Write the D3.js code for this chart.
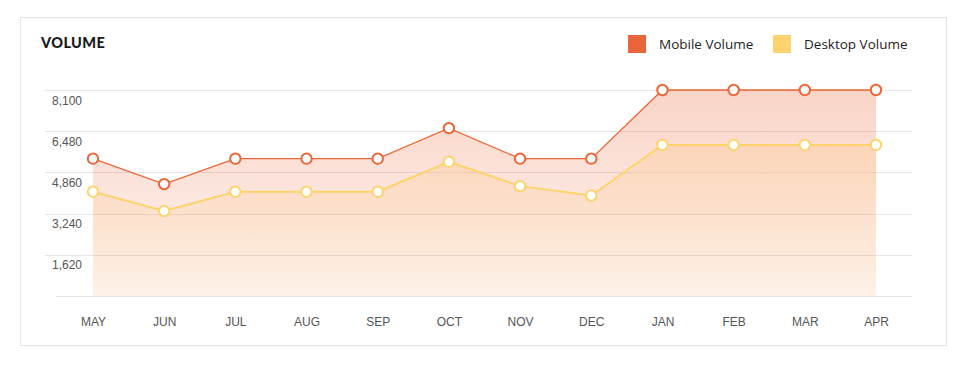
<!DOCTYPE html>
<html>
<head>
<meta charset="utf-8">
<script src="https://cdn.jsdelivr.net/npm/d3@7/dist/d3.min.js"></script>
<style>
  html, body { margin: 0; padding: 0; background: #fff; }
  svg { display: block; }
</style>
</head>
<body>
<svg id="chart" width="963" height="369"></svg>
<script>
const months = ["MAY","JUN","JUL","AUG","SEP","OCT","NOV","DEC","JAN","FEB","MAR","APR"];
const mobileVolume = [5400, 4400, 5400, 5400, 5400, 6600, 5400, 5400, 8100, 8100, 8100, 8100];
const desktopVolume = [4100, 3340, 4100, 4100, 4100, 5280, 4320, 3950, 5940, 5940, 5940, 5940];
const yTicks = [1620, 3240, 4860, 6480, 8100];
const seriesNames = ["Mobile Volume", "Desktop Volume"];
const seriesColors = ["#ec6536", "#fdd36c"];

const svg = d3.select("#chart");

// card
svg.append("rect").attr("x", 20.5).attr("y", 17.5).attr("width", 926).attr("height", 328)
  .attr("fill", "#fff").attr("stroke", "#e2e3e8").attr("stroke-width", 1);

// title
svg.append("text").attr("x", 41).attr("y", 48).text("VOLUME")
  .attr("font-family", "Lato, 'Open Sans', sans-serif").attr("font-weight", 900)
  .attr("font-size", 14.5).attr("fill", "#1a1a1a").attr("letter-spacing", 0.4);

// legend
const legendX = [628, 773];
seriesNames.forEach((n, i) => {
  svg.append("rect").attr("x", legendX[i]).attr("y", 35).attr("width", 18).attr("height", 18)
    .attr("fill", i === 0 ? "#e9663a" : "#fcd36e");
  svg.append("text").attr("x", legendX[i] + 31).attr("y", 49).text(n)
    .attr("font-family", "'Open Sans', Lato, sans-serif").attr("font-size", 13.5)
    .attr("fill", "#222");
});

const x = d3.scalePoint().domain(months).range([93, 876]);
const y = d3.scaleLinear().domain([0, 8100]).range([296, 90]);

// gradients
const defs = svg.append("defs");
function grad(id, color, top, bottom) {
  const g = defs.append("linearGradient").attr("id", id)
    .attr("gradientUnits", "userSpaceOnUse")
    .attr("x1", 0).attr("y1", y(8100)).attr("x2", 0).attr("y2", y(0));
  g.append("stop").attr("offset", 0).attr("stop-color", color).attr("stop-opacity", top);
  g.append("stop").attr("offset", 1).attr("stop-color", color).attr("stop-opacity", bottom);
}
grad("gMobile", "#ec6536", 0.28, 0.06);
grad("gDesktop", "#fdc070", 0.32, 0.08);

// gridlines
const grid = svg.append("g");
grid.selectAll("line").data(yTicks).join("line")
  .attr("x1", 45).attr("x2", 912)
  .attr("y1", d => Math.round(y(d)) + 0.5).attr("y2", d => Math.round(y(d)) + 0.5)
  .attr("stroke", "#e4e4ea").attr("stroke-width", 1);
svg.append("line").attr("x1", 56).attr("x2", 912).attr("y1", 296.5).attr("y2", 296.5)
  .attr("stroke", "#e2e3e8");

// y tick labels
svg.append("g").selectAll("text").data(yTicks).join("text")
  .attr("x", 52).attr("y", d => y(d) + 14.5)
  .text(d => d3.format(",")(d))
  .attr("font-family", "'Liberation Sans', Arial, sans-serif").attr("font-size", 12)
  .attr("fill", "#555");

// x axis labels
const xAxis = d3.axisBottom(x).tickSize(0).tickPadding(0);
const xg = svg.append("g").attr("transform", "translate(0,317)").call(xAxis);
xg.select(".domain").remove();
xg.selectAll("text").attr("font-family", "'Liberation Sans', Arial, sans-serif")
  .attr("font-size", 12).attr("fill", "#555").attr("dy", "0.71em");

// areas
const mData = months.map((m, i) => ({ m, v: mobileVolume[i] }));
const dData = months.map((m, i) => ({ m, v: desktopVolume[i] }));
const area = d3.area().x(d => x(d.m)).y0(y(0)).y1(d => y(d.v));
const line = d3.line().x(d => x(d.m)).y(d => y(d.v));

svg.append("path").datum(mData).attr("d", area).attr("fill", "url(#gMobile)");
svg.append("path").datum(dData).attr("d", area).attr("fill", "url(#gDesktop)");

svg.append("path").datum(mData).attr("d", line).attr("fill", "none")
  .attr("stroke", seriesColors[0]).attr("stroke-width", 1.3);
svg.append("path").datum(dData).attr("d", line).attr("fill", "none")
  .attr("stroke", seriesColors[1]).attr("stroke-width", 2);

[[dData, seriesColors[1]], [mData, seriesColors[0]]].forEach(([data, c]) => {
  svg.append("g").selectAll("circle").data(data).join("circle")
    .attr("cx", d => x(d.m)).attr("cy", d => y(d.v)).attr("r", 5.2)
    .attr("fill", "#fff").attr("stroke", c).attr("stroke-width", 2);
});
</script>
</body>
</html>
